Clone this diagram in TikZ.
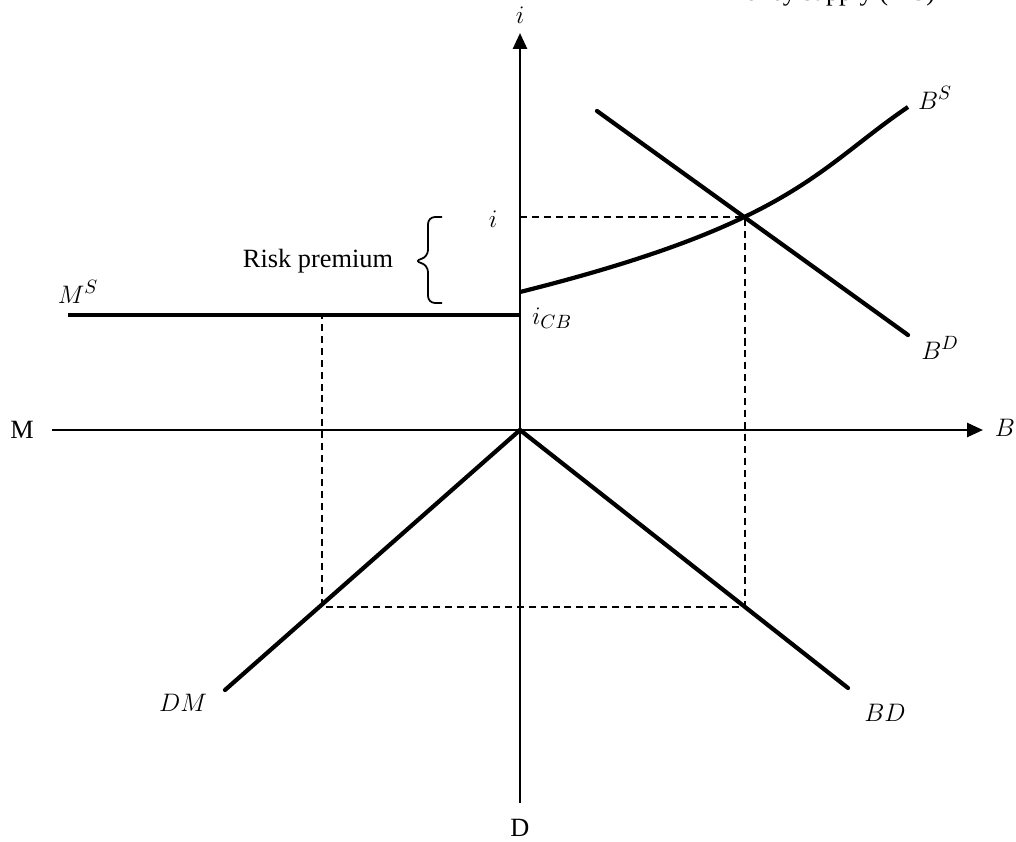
\documentclass[tikz,border=0pt]{standalone}
\usepackage{fontspec}
\setmainfont{Liberation Serif}
\usetikzlibrary{arrows.meta}

\begin{document}
\begin{tikzpicture}[x=0.02cm,y=-0.02cm,>={Triangle[length=3.2mm,width=2.8mm]},
  font=\fontsize{15}{18}\selectfont,
  axis/.style={line width=1.5pt},
  curve/.style={line width=2.4pt,line cap=round},
  guide/.style={line width=0.75pt,dash pattern=on 4pt off 2.8pt}]
\useasboundingbox (0,0) rectangle (1016,841);
% axes
\coordinate (O) at (520,430);
\coordinate (ytop) at (520,33);
\coordinate (ybot) at (520,803);
\coordinate (xleft) at (52,430);
\coordinate (xright) at (983,430);
\draw[axis,->] (ybot) -- (ytop);
\draw[axis,->] (xleft) -- (xright);
\node (ilab) at (520,15) {$i$};
\node (Blab) at (1005,428) {$B$};
\node (Mlab) at (22,430) {M};
\node (Dlab) at (520,828) {D};
% cut caption at the top
\node[anchor=base west,inner sep=0pt] (cap) at (721,0.5) {Money supply (MS)};
% money supply
\coordinate (msL) at (68,315);
\coordinate (msR) at (520,315);
\draw[curve,line cap=butt] (msL) -- (msR);
\node (MSlab) at (78,292) {$M^S$};
\node (iCBlab) at (552,318) {$i_{CB}$};
% bond supply and demand
\coordinate (bsA) at (520,292);
\coordinate (eq) at (745,217);
\coordinate (bsE) at (908,107);
\draw[curve,line cap=butt] (bsA) .. controls (791.6,224) and (817,169) .. (bsE);
\node (BSlab) at (935,98) {$B^S$};
\coordinate (bdA) at (597,111);
\coordinate (bdE) at (908,335);
\draw[curve] (bdA) -- (bdE);
\node (BDlab) at (940,348) {$B^D$};
% quadrant lines
\coordinate (dmE) at (225,690);
\coordinate (bdqE) at (848,688);
\draw[curve] (O) -- (dmE);
\draw[curve] (O) -- (bdqE);
\node (DMlab) at (183,703) {$DM$};
\node (BDqlab) at (885,713) {$BD$};
% guides
\coordinate (iax) at (520,217);
\coordinate (qMS) at (322,315);
\coordinate (qM) at (322,607);
\coordinate (qB) at (745,607);
\draw[guide] (iax) -- (eq) -- (qB) -- (qM) -- (qMS);
\node (ilab2) at (493,219) {$i$};
% risk premium
\draw[line width=1pt,rounded corners=4pt] (442,217) -- (428,217) -- (428,257)
  -- (414,261) -- (428,265) -- (428,303) -- (442,303);
\node (rp) at (318,261) {Risk premium};
\end{tikzpicture}
\end{document}
